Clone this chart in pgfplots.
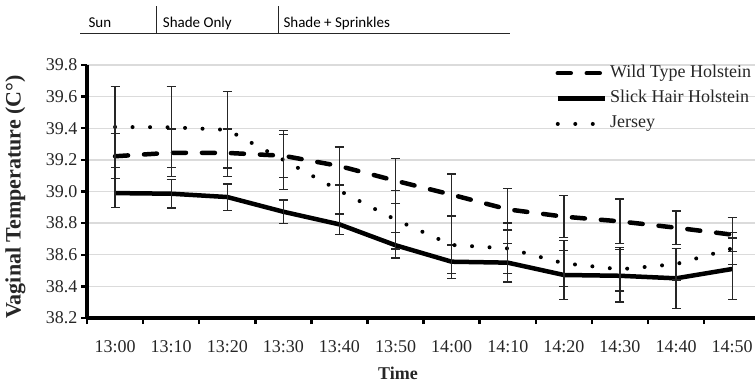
\documentclass[border=0pt]{standalone}
\usepackage{fontspec}
\setmainfont{Liberation Serif}
\newfontfamily\calibri{Carlito}
\usepackage{pgfplots}
\pgfplotsset{compat=1.18}
\usepackage{pgfplotstable}

\pgfplotstableread{
x wt wte sh she je jee
0 39.223 0.142 38.990 0.092 39.408 0.255
1 39.245 0.151 38.986 0.090 39.406 0.256
2 39.244 0.151 38.965 0.083 39.390 0.241
3 39.226 0.136 38.872 0.075 39.200 0.187
4 39.161 0.120 38.792 0.065 39.005 0.278
5 39.068 0.142 38.660 0.080 38.822 0.186
6 38.980 0.130 38.556 0.105 38.662 0.181
7 38.887 0.130 38.550 0.122 38.640 0.160
8 38.841 0.133 38.472 0.156 38.546 0.145
9 38.811 0.141 38.467 0.165 38.508 0.137
10 38.771 0.106 38.451 0.190 38.541 0.100
11 38.727 0.107 38.510 0.195 38.640 0.100
}\data

\begin{document}
\begin{tikzpicture}[x=1bp,y=1bp]
\begin{axis}[
  at={(87bp,67bp)}, anchor=south west,
  scale only axis, width=667.6bp, height=253bp,
  xmin=-0.5, xmax=11.4, ymin=38.2, ymax=39.8,
  axis lines*=left,
  axis line style={line width=3.5bp, black},
  ytick={38.2,38.4,38.6,38.8,39.0,39.2,39.4,39.6,39.8},
  y tick label style={/pgf/number format/fixed, /pgf/number format/fixed zerofill, /pgf/number format/precision=1},
  /pgf/number format/assume math mode=true,
  xtick={-0.5,0.5,1.5,2.5,3.5,4.5,5.5,6.5,7.5,8.5,9.5,10.5},
  xticklabels={13:00,13:10,13:20,13:30,13:40,13:50,14:00,14:10,14:20,14:30,14:40,14:50},
  xticklabel style={xshift=28.05bp, yshift=-13bp},
  tick align=outside, major tick length=6bp,
  tick style={line width=2.5bp, black},
  tick label style={font=\fontsize{18bp}{21bp}\selectfont, text=black!85},
  ymajorgrids, major grid style={line width=1.3bp, color=black!14},
  clip=false,
  legend style={at={(0.697,1.012)}, anchor=north west, draw=none, fill=none,
    font=\fontsize{18bp}{21bp}\selectfont, row sep=7.4bp, column sep=2bp,
    nodes={inner sep=1bp, text height=12bp, text depth=4bp, text=black!85}},
  legend cell align=left,
  legend image code/.code={\draw[#1] (0bp,0bp) -- (47bp,0bp);},
]
\addplot[black, line width=4.5bp, dash pattern=on 13bp off 16bp, line cap=round,
  error bars/.cd, y dir=both, y explicit,
  error bar style={line width=1.3bp, solid, line cap=butt, black!85},
  error mark options={rotate=90, mark size=4.5bp, line width=1.3bp, solid, black!85}]
  table[x=x, y=wt, y error=wte] {\data};
\addplot[black, line width=4.5bp, solid,
  error bars/.cd, y dir=both, y explicit,
  error bar style={line width=1.3bp, solid, black!85},
  error mark options={rotate=90, mark size=4.5bp, line width=1.3bp, solid, black!85}]
  table[x=x, y=sh, y error=she] {\data};
\addplot[black, line width=4bp, dash pattern=on 0bp off 17.5bp, line cap=round,
  error bars/.cd, y dir=both, y explicit,
  error bar style={line width=1.3bp, solid, line cap=butt, black!85},
  error mark options={rotate=90, mark size=4.5bp, line width=1.3bp, solid, black!85}]
  table[x=x, y=je, y error=jee] {\data};
\legend{Wild Type Holstein, Slick Hair Holstein, Jersey}
\end{axis}
\draw[line width=1bp, black!85] (80,351.3) -- (510,351.3);
\draw[line width=1bp, black!85] (156.7,351.3) -- (156.7,379);
\draw[line width=1bp, black!85] (278.3,351.3) -- (278.3,379);
\node[anchor=base west, inner sep=0, font=\calibri\fontsize{15bp}{18bp}\selectfont] at (88.3,358) {Sun};
\node[anchor=base west, inner sep=0, font=\calibri\fontsize{15bp}{18bp}\selectfont] at (162.7,358) {Shade Only};
\node[anchor=base west, inner sep=0, font=\calibri\fontsize{15bp}{18bp}\selectfont] at (283.3,358) {Shade + Sprinkles};
\node[rotate=90, inner sep=0, font=\bfseries\fontsize{22bp}{25bp}\selectfont, text=black!85] at (15.5,188) {Vaginal Temperature (C°)};
\node[inner sep=0, font=\bfseries\fontsize{18bp}{21bp}\selectfont, text=black!85] at (398,12) {Time};
\pgfresetboundingbox
\useasboundingbox (0,0) rectangle (755,385);
\end{tikzpicture}
\end{document}
